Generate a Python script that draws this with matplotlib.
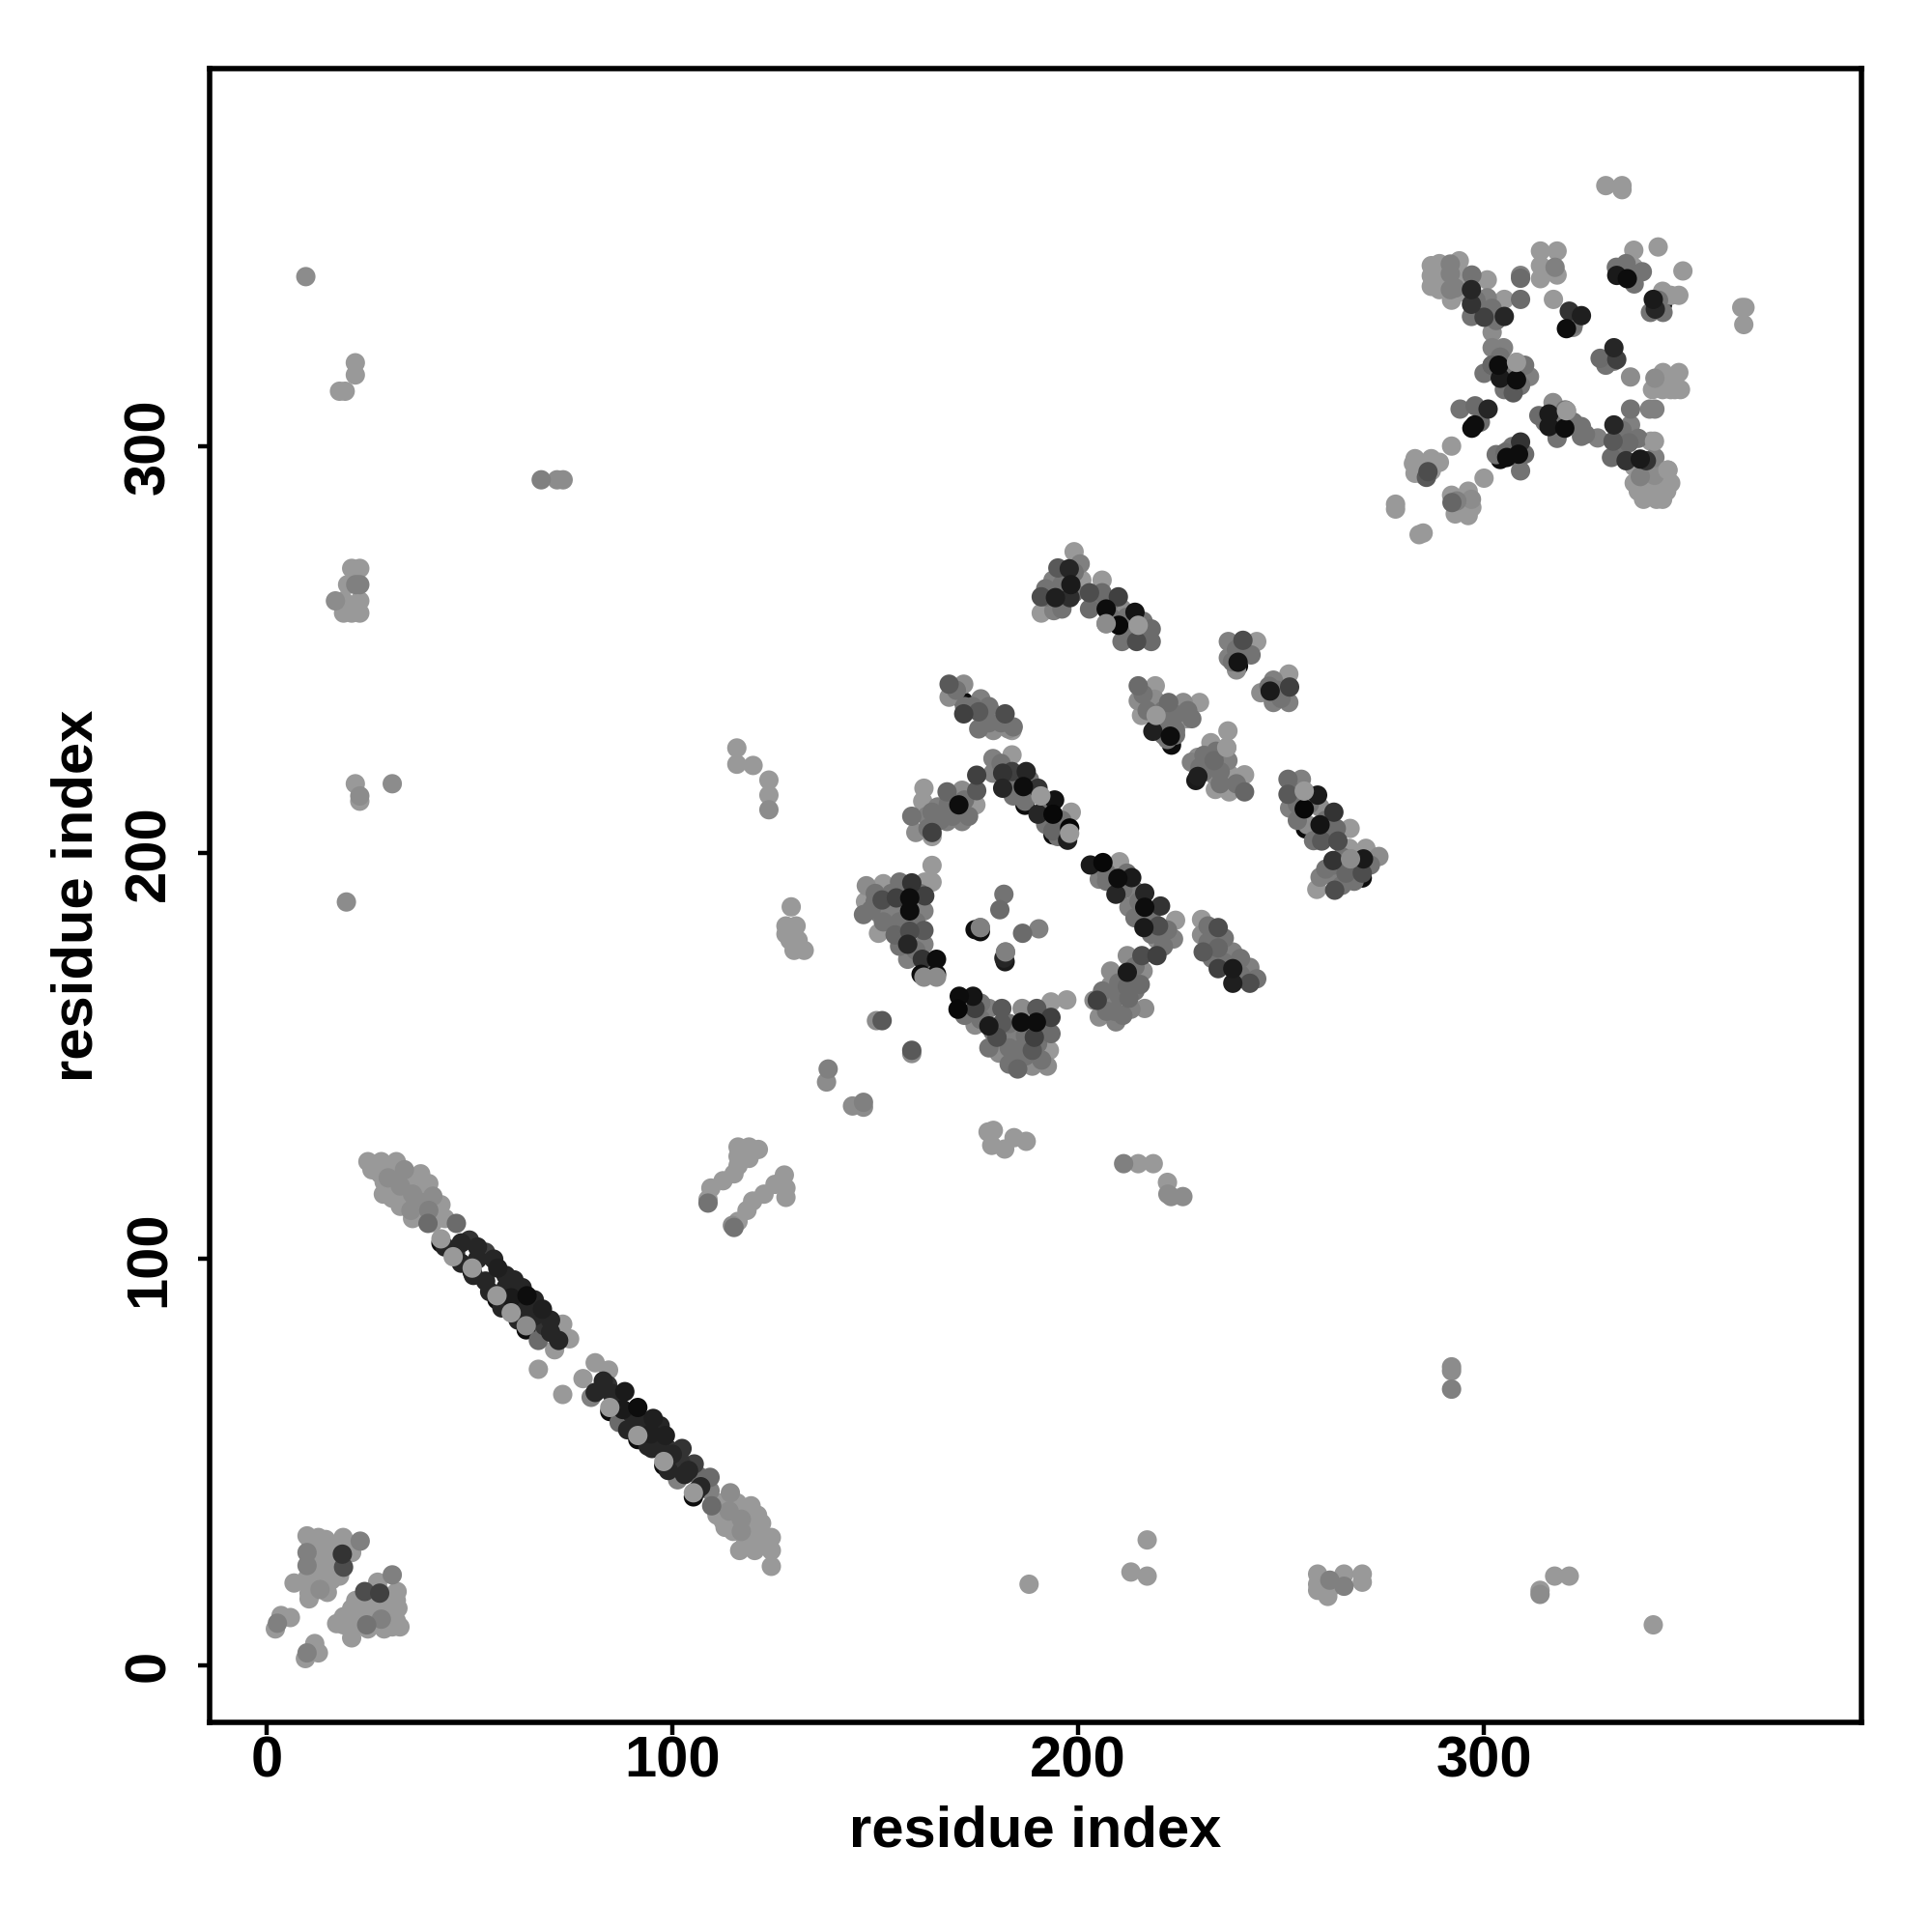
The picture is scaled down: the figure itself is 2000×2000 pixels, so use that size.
import numpy as np
import matplotlib
matplotlib.use("Agg")
import matplotlib.pyplot as plt

plt.rcParams['font.family'] = ['Liberation Sans', 'DejaVu Sans']

tick_values = [0, 100, 200, 300]
axis_label = "residue index"

# main anti-diagonal band
band_x = [25, 28.3, 32, 28.8, 32.4, 35.8, 40, 35.6, 43, 39.8, 46.8, 50, 46.6, 54, 57, 54, 61, 64.2, 60.3, 68, 68.5, 67, 73, 74.7, 71, 67, 73,
          81, 84.3, 78, 81, 84.1, 80, 88.3, 91.5, 87.8, 86.9, 91.5, 95.3, 94.7, 98.3, 95, 102.4, 98.8, 102, 105.4, 101.3, 109.3, 106.5, 109.7, 109.3, 114.3, 112.5, 119.4, 119.8, 116.6, 120.3, 124.4, 124.4, 124.4,
          30, 33, 36, 38, 40, 41, 30, 34, 28, 31, 117, 121, 114, 117, 122, 119]
band_y = [124, 124, 124, 116, 114.7, 119.8, 118.6, 112, 113.4, 108.8, 108.8, 104.7, 101.5, 101.7, 97.8, 94.6, 94.9, 91, 90.5, 87.7, 83.6, 80, 84, 80.4, 77.7, 72.9, 66.7,
          74.5, 72.7, 70.6, 67.2, 69, 66, 67.4, 63.5, 63, 59.8, 60.8, 60.8, 57, 56.6, 53.4, 53.4, 53.4, 50.2, 49.6, 45.7, 46.3, 46.6, 39.3, 43, 42.5, 35.6, 39.3, 35.6, 28.3, 28.3, 31.5, 28.3, 24.4,
          120, 118, 116, 114, 112, 115.5, 117, 122, 121, 123, 33, 32, 38, 36, 35, 31]
band_g = [.6, .6, .6, .6, .6, .6, .6, .55, .6, .42, .42, .2, .2, .25, .12, .15, .15, .05, .1, .12, .2, .42, .6, .6, .6, .6, .6,
          .6, .6, .6, .15, .2, .5, .1, .05, .1, .42, .15, .12, .12, .12, .15, .2, .2, .2, .25, .5, .42, .42, .42, .5, .55, .6, .6, .6, .6, .6, .6, .6, .6,
          .55, .55, .55, .55, .5, .55, .6, .55, .6, .6, .55, .6, .55, .55, .6, .6]

# blocks around the ring in the middle of the map
upper_x = [168.2, 171.8, 168.2, 176, 171.8, 175.5, 179.1, 182, 175.5, 179.1, 182.8, 183.7,
           179, 183.7, 179, 181.4, 183.7, 187.2, 181.4, 186.5, 190.1, 186.9, 194.2, 190.1, 193.8, 198.3, 193.8, 197.9, 197.4]
upper_y = [241.5, 241.5, 238.3, 237.9, 234.2, 234.7, 234.2, 234.2, 230.5, 230.1, 230.5, 230.1,
           223.2, 224.1, 219.6, 219.6, 220, 220, 215.9, 216.3, 215.9, 212.7, 213, 209.5, 209.5, 210, 205.4, 206.1, 203.1]
upper_g = [.35, .55, .55, .5, .25, .35, .5, .3, .45, .55, .55, .6,
           .5, .6, .5, .2, .25, .15, .15, .05, .2, .45, .07, .15, .03, .6, .4, .02, .12]

left_x = [175, 175, 171.4, 162, 167.7, 165.4, 161.7, 170.6, 174.8, 159, 162.7, 167.7, 171.4, 164, 160, 164,
          164, 164, 147.8, 152, 156, 159, 162.2, 147.6, 151.7, 155.2, 158.5, 162.2, 147.1, 150.8, 154.9, 158.5, 162,
          150.8, 154.9, 158.5, 162, 158, 162, 158, 161.6, 165.1, 161.3, 165.1]
left_y = [219.1, 215.3, 215.4, 215.9, 215, 211.3, 212.7, 211.8, 211.8, 209, 209, 207.7, 207.7, 205, 205, 204,
          196.9, 192.8, 191.9, 192.4, 192.8, 192.6, 192.8, 188, 188.4, 188.9, 188.9, 189.4, 184.8, 185.2, 185.2, 185.7, 185.7,
          180.2, 179.8, 180.7, 180.9, 177.5, 177.5, 173.8, 173.8, 173.8, 170.1, 170.1]
left_g = [.25, .35, .55, .6, .4, .5, .6, .05, .6, .45, .5, .5, .5, .25, .55, .6,
          .6, .6, .55, .6, .45, .2, .6, .6, .3, .25, .05, .25, .45, .5, .5, .05, .5,
          .6, .4, .3, .35, .15, .5, .5, .2, .05, .05, .05]

center_x = [181.7, 180.7, 174.6, 175.9, 186.3, 190.3, 181.7, 182.1]
center_y = [189.8, 186, 181.1, 181.6, 180.2, 181.3, 174.1, 175.6]
center_g = [.45, .42, .05, .5, .42, .5, .15, .5]

lower_x = [170.7, 174.1, 170.4, 174.6, 178, 181.2, 186.2, 189.8, 193.3, 197.2, 193.3, 186, 189.7, 174.6, 178, 181.2, 180, 189.2, 193.3, 184.2, 180.5, 185.1, 188.7, 192.9, 185.1, 188.7, 192.4]
lower_y = [164.7, 164.7, 161.5, 161.7, 161.7, 161.7, 161.7, 161.7, 163.3, 163.8, 159.5, 158.3, 158.3, 157.6, 157.4, 158, 154.6, 154.6, 155.5, 155, 150.7, 151.4, 151.4, 151.4, 146.8, 147.5, 147.5]
lower_g = [.05, .08, .03, .25, .5, .35, .55, .35, .6, .6, .25, .05, .05, .55, .1, .35, .3, .25, .42, .5, .55, .45, .35, .6, .4, .55, .55]

inner_x = [212.1, 215.7, 219.4, 208, 212.1, 216, 208, 212.1, 215.3, 203.9, 204.7, 208.9, 212.5, 205.2, 209.3, 209, 213, 216.4]
inner_y = [174.7, 174.7, 174.7, 170.9, 170.6, 170.9, 167.4, 167.1, 167.6, 163.7, 163.7, 164.2, 164.2, 159.6, 158.4, 161, 161.5, 161.7]
inner_g = [.55, .3, .25, .55, .1, .55, .55, .42, .42, .55, .25, .5, .42, .55, .5, .45, .5, .55]

right_x = [203, 206.1, 210.2, 205.2, 209.8, 213.2, 209.3, 213.9, 216.4, 212.5, 216.4, 220.3, 216.2, 219.8, 224, 219.4, 223.5,
           230.4, 234.5, 230.4, 230.8, 234.5, 234.5, 238.1, 238.1, 242.3, 238.1, 242.3]
right_y = [197, 197.6, 197.8, 193.5, 193.7, 193.9, 189.8, 190.7, 190.1, 186.6, 186.6, 186.9, 181.6, 182, 183.4, 178.7, 178.8,
           183.6, 181.6, 179.8, 175.6, 176.6, 171.5, 175.6, 171.5, 171.8, 167.9, 167.9]
right_g = [.1, .03, .6, .5, .05, .1, .15, .5, .15, .5, .05, .2, .1, .3, .6, .55, .5,
           .6, .3, .55, .35, .4, .25, .5, .1, .5, .12, .3]

# upper strips, residues 190-275
strip_x = [199, 195, 200.5, 197.8, 193.8, 197, 200.9, 198.2, 190.9, 194.4, 198, 190.9, 194,
           205.9, 202.8, 205.9, 209.9, 202.8, 206.9, 210.8, 214, 206.9, 210, 214.8, 218, 210.8, 214.4, 218,
           214.8, 219, 214.8, 218.8, 222.3, 225.9, 229.9, 215.6, 219.2, 222.3, 226.7, 218.4, 222, 222.7, 224,
           237, 240.6, 244, 237, 242.6, 239.4, 239,
           251.9, 248.1, 252.1, 245, 247.3, 248.1, 251.9,
           236.9, 232.7, 236.6, 229.5, 227.9, 233.5, 236.9, 229.5, 233.5, 237.4, 241, 233.8, 237.2, 241,
           251.7, 255, 251.7, 255.7, 259, 252.1, 255.7, 259.6, 263, 256.5, 259.6, 263.6, 267, 260, 264,
           266.8, 270.9, 274.1, 262.8, 267.1, 270.3, 266, 270, 259.6, 263.2, 263.2, 258.8]
strip_y = [274.1, 270.1, 271.1, 269.9, 267.1, 266.3, 267.1, 266, 263, 262.8, 262.8, 259, 259.6,
           267.1, 264, 264, 263, 260, 260, 260, 259.2, 256.4, 256, 256, 255.1, 252, 252, 252,
           241.1, 241.1, 237.4, 237.8, 237, 237, 237, 233.8, 233.8, 233.4, 233, 229.9, 227.9, 228.7, 230.2,
           252, 252.3, 252, 248, 248.7, 246.9, 245,
           244, 242.5, 240.8, 239.4, 239.8, 237, 237,
           230, 227.1, 225.9, 223.5, 222.3, 222.7, 222.7, 218.8, 219.2, 219.2, 219.2, 215.6, 215, 215,
           218.1, 218.1, 214.4, 215.2, 214.2, 211, 210.8, 211.2, 210, 206.9, 206.9, 206, 206, 202.9, 202.9,
           201.1, 201.1, 199.1, 198.1, 198.5, 198.5, 195, 195, 194, 194, 190.8, 191]
strip_g = [.6, .35, .5, .15, .5, .5, .6, .1, .3, .12, .18, .6, .5,
           .6, .3, .42, .25, .42, .05, .55, .08, .5, .03, .55, .42, .45, .3, .42,
           .42, .6, .55, .55, .42, .55, .6, .6, .6, .45, .6, .12, .45, .05, .45,
           .5, .3, .6, .5, .45, .08, .55,
           .6, .5, .25, .55, .1, .5, .5,
           .6, .6, .6, .55, .5, .42, .5, .12, .55, .6, .6, .6, .6, .4,
           .42, .5, .35, .6, .1, .5, .03, .55, .2, .55, .08, .42, .6, .35, .3,
           .6, .6, .55, .2, .55, .1, .4, .3, .5, .5, .3, .6]

# cross shaped cluster at the top right
cross_x = [330, 334, 334, 342.9, 336.9, 313.9, 318, 349, 313.9, 313.9, 317.5, 318, 309, 309, 332.6, 332.7, 336.9, 335.3, 335.5,
           287, 287, 287, 289, 289, 289, 291.7, 291.7, 291.7, 293.9, 293.9, 292.9, 297, 296.9, 300.8, 300.8, 305, 309, 296.9, 296.9, 300, 305, 302,
           317.1, 321, 324, 320.3, 321.9, 302, 302, 304.8, 302, 303.6, 308, 304, 308, 311.2, 307.2,
           328.6, 332, 332.7, 336.1, 342.1, 344.1, 348, 341.5, 344, 347, 348.4, 336.1, 342.1, 340.8,
           294.1, 297.8, 301, 297.7, 299.1, 292,
           313.5, 317, 316, 320.3, 316, 319.9, 319.9, 324, 324, 328, 332, 336.1, 331.8, 335.7, 331.4, 335, 338.5, 341.1, 342.1, 340,
           345.3, 338.5, 342, 338, 341.3, 345, 339.3, 342.5, 344,
           309, 305.2, 305.6, 310, 308.5, 309, 300,
           282.6, 287, 289, 283, 286.2, 285.8, 287,
           278.2, 278.2, 292.1, 296.1, 296.9, 293.3, 292.9, 296.1, 285, 284,
           363.5, 364.3, 364,
           344, 341.7, 348, 346, 342.2, 344.1]
cross_y = [364.2, 364.2, 363.2, 349.1, 348.3, 348.1, 348.1, 343.2, 344.5, 341.3, 344.1, 342.2, 342.1, 341.4, 344.1, 342.1, 344.1, 341.3, 342.6,
           344.5, 342, 339.4, 345, 341.8, 338.6, 344.9, 342.5, 338.6, 345.7, 342.5, 339, 342.2, 338.6, 341, 336.6, 336.2, 336.2, 335, 332, 331.8, 332, 328.1,
           336.2, 333.3, 332.2, 329, 329.3, 324.3, 320, 324.3, 320, 320, 320.7, 316.8, 316.4, 317.2, 313.2,
           321.7, 324.3, 321.4, 317.1, 316.8, 318.2, 318.2, 314, 314, 314, 314, 309.2, 309.2, 309.2,
           309.2, 310, 309.2, 305.3, 306, 300.1,
           307.6, 310.8, 308, 308.8, 304.9, 304.5, 305.7, 304.9, 302.5, 302.1, 305.3, 305.3, 301.3, 300.9, 297.3, 296.5, 296.9, 301.3, 297.3, 296.5,
           294.2, 292.6, 292.9, 289, 289, 289, 287, 287, 287,
           301.1, 298.5, 297.3, 298.1, 298.1, 294, 292.2,
           295.8, 297, 296.1, 293.4, 293.8, 292.4, 294.5,
           285.8, 284.6, 286.2, 289, 287, 286.6, 283.4, 283, 278.7, 278.3,
           334.2, 334.2, 330,
           338.2, 336.2, 337.2, 337.2, 333.8, 333]
cross_g = [.6, .6, .6, .6, .6, .6, .6, .6, .6, .6, .5, .6, .5, .42, .45, .1, .6, .05, .5,
           .6, .6, .6, .6, .6, .6, .5, .5, .5, .6, .6, .5, .45, .15, .6, .5, .6, .42, .2, .45, .25, .15, .55,
           .6, .2, .12, .05, .5, .5, .4, .5, .4, .05, .6, .1, .05, .5, .35,
           .42, .15, .25, .55, .55, .6, .6, .6, .6, .6, .6, .45, .5, .5,
           .45, .42, .15, .05, .42, .6,
           .42, .55, .1, .6, .1, .05, .45, .45, .45, .5, .15, .5, .35, .42, .42, .2, .1, .6, .5, .2,
           .6, .5, .55, .6, .6, .6, .6, .6, .6,
           .2, .42, .05, .42, .05, .45, .6,
           .6, .6, .6, .6, .3, .35, .6,
           .6, .6, .4, .6, .55, .5, .6, .6, .6, .6,
           .6, .6, .6,
           .6, .1, .6, .6, .15, .45]

# small groups along the diagonal and the corners
near_x = [10, 12.8, 14.6, 18.9, 23.1, 10, 12.3, 15, 18.7, 21, 10, 12.8, 15.5, 19, 6.8, 10, 12.8, 16, 10.5, 13.2, 10.5,
          31, 27.4, 24.2, 27.9, 27.4, 32.2, 32.4, 24.2, 21, 17.3, 20.5, 24.7, 24.7, 28.3, 28.8, 32.9, 31, 21,
          3.6, 5.9, 2.2, 2.7, 11.9, 12.8, 9.6, 10,
          116.2, 118.9, 121.2, 116.2, 118.9, 116.2, 112.5, 115.2, 109.5, 108.8, 108.8, 127.6, 125.3, 128, 128, 122.6, 119.8, 118.4, 116.2, 114.8, 115.2,
          151.7, 150.3, 159, 159, 138.4, 138, 144.4, 147.1, 147.1,
          177.8, 179.1, 178.7, 181.9, 184.2, 187.2,
          211.2, 214.8, 218.5, 222, 222.1, 225.8, 222.9]
near_y = [31.9, 31.5, 31, 31.5, 30.6, 27.8, 27.8, 27.8, 27.4, 27.8, 24.6, 24.6, 24.6, 24.2, 20.3, 21.4, 21, 21, 17.8, 18.7, 16.4,
          22.3, 20.5, 18.2, 17.8, 19.2, 18.2, 14.1, 15, 14, 10.3, 11.4, 10, 11.4, 11.4, 9.5, 9.5, 9.5, 6.8,
          12.3, 11.8, 9, 10.4, 5.4, 3.1, 1.7, 3.1,
          127.6, 127.6, 127, 125.3, 124.8, 123, 119.3, 121, 117.5, 114.7, 113.8, 120.7, 118.4, 117.5, 115.2, 116, 114.3, 112, 109.3, 108.3, 107.8,
          158.7, 158.7, 151.4, 150.6, 146.8, 143.6, 137.7, 138.6, 137.4,
          131.3, 131.7, 128, 127.1, 129.9, 129,
          123.5, 123.5, 123.5, 118.9, 116, 115.4, 115.4]
near_g = [.6, .6, .6, .6, .5, .5, .6, .6, .2, .6, .5, .6, .6, .3, .6, .6, .6, .6, .6, .55, .6,
          .5, .6, .3, .25, .6, .6, .6, .6, .6, .6, .6, .45, .6, .5, .6, .6, .6, .6,
          .6, .6, .6, .5, .6, .6, .6, .5,
          .6, .6, .6, .6, .6, .6, .6, .6, .6, .6, .45, .6, .6, .6, .6, .6, .6, .6, .6, .55, .45,
          .35, .55, .35, .55, .5, .55, .55, .5, .55,
          .6, .6, .6, .6, .6, .6,
          .5, .6, .6, .6, .55, .55, .55]

# isolated contacts far from the diagonal
far_x = [9.7, 21.9, 21.9, 18, 19.4, 67.7, 71.6, 73.1, 21, 23, 20, 22, 23, 17, 19, 23, 19, 21, 23, 21.9, 23, 23, 31, 19.7,
         115.9, 115.9, 119.9, 123.8, 123.8, 123.8, 129.3, 128, 130.5, 129, 131, 132.5, 128, 130,
         259, 259, 259, 262, 262, 261.5, 265.5, 265.5, 270, 270, 313.8, 313.8, 317.4, 321, 341.7, 187.9, 217, 213, 217, 292, 292, 292]
far_y = [341.8, 320.6, 317.6, 313.6, 313.6, 291.8, 291.8, 291.8, 270, 270, 266, 266, 266, 262, 262, 262, 259, 259, 259, 217, 212.7, 214, 217, 187.9,
         225.8, 221.8, 221.5, 217.9, 214.2, 210.6, 186.7, 182, 182, 178.5, 178.5, 176, 180, 176,
         22.5, 20, 18.5, 19, 21, 17, 22.5, 19.5, 22.5, 20.5, 18.5, 17.5, 22, 22, 10, 20, 30.9, 23, 22, 72.5, 73.5, 68]
far_g = [.55, .6, .6, .6, .6, .5, .55, .55, .6, .6, .6, .5, .5, .55, .6, .6, .6, .6, .6, .6, .6, .55, .55, .55,
         .6, .6, .6, .6, .6, .55, .6, .6, .6, .6, .6, .6, .6, .6,
         .6, .6, .6, .6, .5, .6, .6, .5, .6, .6, .6, .55, .6, .6, .6, .6, .6, .6, .6, .55, .55, .5]

# dots partly hidden inside the dense blocks
hidden_dark_x = [48, 52, 52, 56, 59, 59, 63, 63, 66, 66, 70, 70, 72, 62, 58, 55, 51, 48, 44,
                 83, 86, 85, 90, 89, 93, 97, 94, 97, 100, 99, 103, 107, 104, 106]
hidden_dark_y = [104, 100, 103, 100, 96, 93, 93, 88, 90, 86, 85, 82, 80, 85, 88, 92, 96, 99, 103,
                 70, 66, 67, 62, 58, 59, 59, 54, 55, 52, 48, 47, 44, 48, 43]

hidden_mid_x = [170, 174, 178, 178, 172, 181, 184,
                181, 185, 188, 192, 192, 196, 195, 188, 184,
                164, 166, 169, 172, 168, 163, 173,
                150, 154, 150, 157, 152, 156, 160, 156, 160, 163, 149, 161,
                172, 176, 179, 183, 187, 191, 183, 187, 191, 176, 183, 190, 178,
                210, 210, 214, 206, 207, 211, 214,
                207, 211, 215, 218, 214, 218, 222, 212, 221, 207,
                232, 232, 236, 236, 240, 240, 244, 233,
                196, 192, 196, 199, 196, 192, 199,
                204, 208, 212, 212, 216, 216, 208,
                217, 221, 224, 220, 224, 227, 216, 228, 221,
                239, 241, 238, 249, 250, 247,
                231, 234, 231, 235, 239, 235, 230,
                254, 254, 257, 261, 262, 258, 253,
                265, 268, 272, 268, 265, 261, 263,
                298, 299, 302, 303, 304, 306, 309, 305, 300, 310, 322, 332, 330, 315, 318, 322, 320, 325, 333, 334, 338, 307, 306, 303,
                339, 335, 337, 341, 343]
hidden_mid_y = [240, 236, 236, 232, 236, 232, 231,
                222, 218, 214, 212, 207, 208, 204, 218, 214,
                210, 208, 209, 213, 212, 206, 209,
                190, 190, 188, 190, 183, 183, 183, 177, 176, 172, 186, 190,
                160, 159, 156, 158, 155, 158, 152, 150, 149, 163, 148, 153, 152,
                165, 168, 172, 166, 161, 160, 166,
                195, 191, 188, 184, 184, 180, 181, 195, 177, 193,
                178, 182, 179, 173, 170, 174, 169, 174,
                263, 263, 266, 264, 260, 265, 269,
                262, 258, 258, 255, 254, 257, 262,
                235, 235, 234, 231, 229, 235, 239, 233, 229,
                250, 249, 247, 240, 238, 241,
                224, 225, 220, 220, 217, 217, 221,
                212, 208, 212, 208, 205, 203, 215,
                199, 196, 197, 193, 192, 196, 197,
                336, 333, 334, 331, 322, 318, 315, 314, 318, 320, 330, 321, 320, 306, 302, 306, 309, 303, 299, 304, 302, 300, 299, 298,
                343, 345, 340, 333, 336]

hidden_light_x = [112, 113, 115, 118, 121, 116, 111, 115, 118, 122, 113,
                  31, 33, 37, 37, 39, 42, 41, 44, 34, 36, 26, 29, 33, 38,
                  11, 13, 15, 17, 17, 17, 14, 12, 11, 12, 14, 18, 15,
                  22, 24, 26, 28, 30, 32, 26, 23, 30, 27, 19, 22, 29, 25, 32, 19,
                  290, 294, 296, 292, 337, 340, 343, 337, 342, 346, 287, 285, 294, 292, 297, 283, 346, 345, 301]
hidden_light_y = [40, 38, 36, 33, 37, 40, 37, 33, 30, 30, 34,
                  115, 113, 114, 118, 116, 112, 109, 110, 115, 110, 122, 119, 120, 121,
                  30, 29, 30, 29, 26, 23, 23, 23, 19, 19, 20, 22, 18,
                  16, 13, 15, 14, 14, 11, 11, 12, 17, 12, 12, 10, 9, 9, 16, 10,
                  340, 338, 341, 336, 295, 293, 293, 291, 289, 291, 294, 293, 285, 288, 285, 297, 314, 316, 336]

# dark crescents that stick out below lighter dots
under_x = [43, 50.7, 56.8, 64, 84.6, 91.5, 97.9, 105.2, 171.8, 175.9, 182, 186.9, 193.8, 219, 223, 229, 239.5, 248, 256, 270, 304, 344, 297, 304]
under_y = [104, 96.8, 90, 82.6, 62.5, 55.6, 49.2, 41.5, 237.2, 180.6, 173.2, 211.7, 204.4, 232.8, 226.5, 217.8, 246, 238.2, 205.9, 193.8, 319, 335, 304.5, 296.8]
under_g = [.05, .05, .05, .05, .05, .05, .05, .05, .05, .05, .1, .05, .05, .05, .05, .1, .05, .05, .05, .05, .05, .1, .05, .05]

# light dots drawn on top of the dark ones
over_x = [43, 46, 50.7, 56.8, 60.3, 64, 84.6, 91.5, 97.9, 105.2, 190.8, 175.9, 182.1, 219.2, 206.9, 214.8, 255.7, 267.1, 236.6, 320.3, 308, 345.3, 342, 162, 165.1, 197.9]
over_y = [105, 100.6, 97.8, 91, 86.8, 83.6, 63.5, 56.6, 50.2, 42.5, 214, 181.6, 175.6, 233.8, 256.4, 256, 215.2, 198.5, 225.9, 308.8, 320.7, 294.2, 301.3, 169.4, 169.4, 204.8]
over_g = [.6, .6, .6, .6, .6, .55, .6, .6, .6, .6, .6, .5, .5, .6, .55, .6, .6, .55, .6, .6, .6, .6, .6, .55, .55, .6]

groups = [(band_x, band_y, band_g), (upper_x, upper_y, upper_g), (left_x, left_y, left_g),
          (center_x, center_y, center_g), (lower_x, lower_y, lower_g), (inner_x, inner_y, inner_g),
          (right_x, right_y, right_g), (strip_x, strip_y, strip_g), (cross_x, cross_y, cross_g),
          (near_x, near_y, near_g), (far_x, far_y, far_g),
          (hidden_dark_x, hidden_dark_y, [.15] * len(hidden_dark_x)),
          (hidden_mid_x, hidden_mid_y, [.45] * len(hidden_mid_x)),
          (hidden_light_x, hidden_light_y, [.6] * len(hidden_light_x))]
rows = []
for gx, gy, gg in groups:
    rows += list(zip(gx, gy, gg, strict=True))
pts = np.array(rows)
# light dots first, dark ones on top
pts = pts[np.argsort(-pts[:, 2], kind="stable")]

fig = plt.figure(figsize=(10, 10), dpi=200)
ax = fig.add_axes([0.1085, 0.1085, 0.855, 0.856])

dot = 52
ax.scatter(under_x, under_y, c=[str(v) for v in under_g], s=dot, linewidths=0, zorder=2)
ax.scatter(pts[:, 0], pts[:, 1], c=[str(v) for v in pts[:, 2]], s=dot, linewidths=0, zorder=3)
ax.scatter(over_x, over_y, c=[str(v) for v in over_g], s=dot, linewidths=0, zorder=4)

ax.set_xlim(-14, 393)
ax.set_ylim(-14, 393)
ax.set_xticks(tick_values)
ax.set_yticks(tick_values)
ax.tick_params(length=4.5, width=1.6, labelsize=21.5)
ax.tick_params(axis="x", pad=0.5)
ax.tick_params(axis="y", pad=8)
for lab in ax.get_xticklabels() + ax.get_yticklabels():
    lab.set_fontweight("bold")
for lab in ax.get_yticklabels():
    lab.set_rotation(90)
    lab.set_va("center")
for s in ax.spines.values():
    s.set_linewidth(2.0)
ax.set_xlabel(axis_label, fontsize=21.5, fontweight="bold", labelpad=6)
ax.set_ylabel(axis_label, fontsize=21.5, fontweight="bold", labelpad=7)

fig.savefig("out.png", dpi=200, facecolor="white")
